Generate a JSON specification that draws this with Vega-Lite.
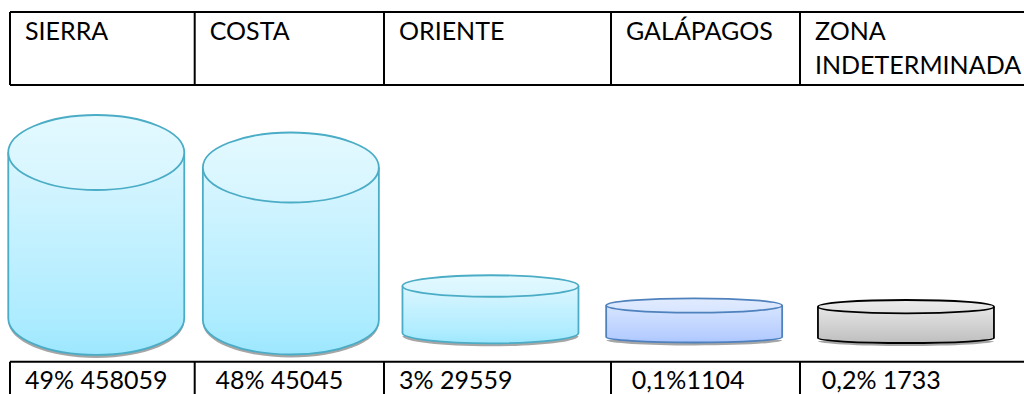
{
  "$schema": "https://vega.github.io/schema/vega-lite/v6.json",
  "width": 1024,
  "height": 394,
  "padding": 0,
  "autosize": "none",
  "background": "white",
  "config": {"view": {"stroke": null}},
  "datasets": {
    "cilindros": [
      {"region": "SIERRA", "columna": 0.467, "porcentaje": 49, "fondo": 0},
      {"region": "COSTA", "columna": 1.508, "porcentaje": 48, "fondo": -2},
      {"region": "ORIENTE", "columna": 2.469, "porcentaje": 3, "fondo": -15},
      {"region": "GALÁPAGOS", "columna": 3.44, "porcentaje": 0.1, "fondo": -19},
      {"region": "ZONA INDETERMINADA", "columna": 4.473, "porcentaje": 0.2, "fondo": -20}
    ],
    "celdas": [
      {"columna": 0, "fila": 1, "texto": "SIERRA"},
      {"columna": 1, "fila": 1, "texto": "COSTA"},
      {"columna": 2, "fila": 1, "texto": "ORIENTE"},
      {"columna": 3, "fila": 1, "texto": "GALÁPAGOS"},
      {"columna": 4, "fila": 1, "texto": "ZONA"},
      {"columna": 4, "fila": 2, "texto": "INDETERMINADA"},
      {"columna": 0, "fila": 5, "texto": "49% 458059"},
      {"columna": 1.03, "fila": 5, "texto": "48% 45045"},
      {"columna": 2, "fila": 5, "texto": "3% 29559"},
      {"columna": 3.03, "fila": 5, "texto": "0,1%1104"},
      {"columna": 4.03, "fila": 5, "texto": "0,2% 1733"}
    ],
    "verticales": [
      {"columna": 0, "fila": 0, "fila2": 3},
      {"columna": 1, "fila": 0, "fila2": 3},
      {"columna": 2, "fila": 0, "fila2": 3},
      {"columna": 3, "fila": 0, "fila2": 3},
      {"columna": 4, "fila": 0, "fila2": 3},
      {"columna": 0, "fila": 4, "fila2": 6},
      {"columna": 1, "fila": 4, "fila2": 6},
      {"columna": 2, "fila": 4, "fila2": 6},
      {"columna": 3, "fila": 4, "fila2": 6},
      {"columna": 4, "fila": 4, "fila2": 6}
    ],
    "horizontales": [
      {"columna": 0, "columna2": 5, "fila": 0},
      {"columna": 0, "columna2": 5, "fila": 3},
      {"columna": 0, "columna2": 5, "fila": 4}
    ]
  },
  "encoding": {
    "x": {
      "field": "columna",
      "type": "quantitative",
      "axis": null,
      "scale": {
        "domain": [0, 1, 2, 3, 4, 5],
        "range": [10, 194.7, 384, 611, 800, 1024],
        "padding": 0,
        "nice": false,
        "zero": false
      }
    }
  },
  "resolve": {"scale": {"y": "independent"}},
  "layer": [
    {
      "description": "Table above and below the cylinders",
      "encoding": {
        "y": {
          "field": "fila",
          "type": "quantitative",
          "axis": null,
          "scale": {
            "domain": [0, 1, 2, 3, 4, 5, 6],
            "range": [12, 40, 74, 85, 361.7, 389, 394],
            "nice": false,
            "zero": false
          }
        }
      },
      "layer": [
        {
          "data": {"name": "verticales"},
          "mark": {"type": "rule", "stroke": "#000000", "strokeWidth": 2},
          "encoding": {"y2": {"field": "fila2"}}
        },
        {
          "data": {"name": "horizontales"},
          "mark": {"type": "rule", "stroke": "#000000", "strokeWidth": 2},
          "encoding": {"x2": {"field": "columna2"}}
        },
        {
          "data": {"name": "celdas"},
          "mark": {
            "type": "text",
            "align": "left",
            "baseline": "alphabetic",
            "dx": 15,
            "font": "Lato",
            "fontSize": 25,
            "fill": "#000000"
          },
          "encoding": {"text": {"field": "texto", "type": "nominal"}}
        }
      ]
    },
    {
      "description": "One cylinder per region; the height follows the stated percentage",
      "data": {"name": "cilindros"},
      "encoding": {
        "y": {
          "field": "porcentaje",
          "type": "quantitative",
          "axis": null,
          "scale": {
            "domain": [-20, 0, 0.1, 0.2, 3, 48, 49],
            "range": [338, 318, 305.5, 306.7, 286, 167.5, 152.5],
            "padding": 0,
            "nice": false,
            "zero": false
          }
        },
        "stroke": {
          "field": "region",
          "type": "nominal",
          "legend": null,
          "scale": {
            "domain": ["SIERRA", "COSTA", "ORIENTE", "GALÁPAGOS", "ZONA INDETERMINADA"],
            "range": ["#4bacc6", "#4bacc6", "#4bacc6", "#4f81bd", "#000000"]
          }
        }
      },
      "resolve": {"scale": {"shape": "independent"}},
      "layer": [
        {
          "description": "Grey shadow under the base",
          "mark": {"type": "point", "filled": true, "opacity": 1, "size": 30976, "yOffset": 3, "fill": "#a6a6a6", "strokeWidth": 0},
          "encoding": {
            "y": {"field": "fondo", "type": "quantitative"},
            "stroke": {"value": null},
            "shape": {
              "field": "region",
              "type": "nominal",
              "legend": null,
              "scale": {
                "domain": ["SIERRA", "COSTA", "ORIENTE", "GALÁPAGOS", "ZONA INDETERMINADA"],
                "range": [
                  "M-1,0C-1,0.232 -0.552,0.42 0,0.42C0.552,0.42 1,0.232 1,0",
                  "M-1,0C-1,0.216 -0.552,0.392 0,0.392C0.552,0.392 1,0.216 1,0",
                  "M-1,0C-1,0.065 -0.552,0.117 0,0.117C0.552,0.117 1,0.065 1,0",
                  "M-1,0C-1,0.035 -0.552,0.0625 0,0.0625C0.552,0.0625 1,0.035 1,0",
                  "M-1,0C-1,0.031 -0.552,0.057 0,0.057C0.552,0.057 1,0.031 1,0"
                ]
              }
            }
          }
        },
        {
          "description": "Cylinder body",
          "mark": {"type": "bar", "orient": "vertical", "size": 176, "strokeWidth": 0},
          "encoding": {
            "y2": {"field": "fondo"},
            "stroke": {"value": null},
            "fill": {
              "condition": [
                {
                  "test": "datum.region === 'GALÁPAGOS'",
                  "value": {"gradient": "linear", "x1": 0, "x2": 0, "y1": 0, "y2": 1, "stops": [{"offset": 0, "color": "#d6e4ff"}, {"offset": 1, "color": "#b6cdff"}]}
                },
                {
                  "test": "datum.region === 'ZONA INDETERMINADA'",
                  "value": {"gradient": "linear", "x1": 0, "x2": 0, "y1": 0, "y2": 1, "stops": [{"offset": 0, "color": "#e6e6e6"}, {"offset": 1, "color": "#c4c4c4"}]}
                }
              ],
              "value": {"gradient": "linear", "x1": 0, "x2": 0, "y1": 0, "y2": 1, "stops": [{"offset": 0, "color": "#daf6ff"}, {"offset": 1, "color": "#aeecff"}]}
            }
          }
        },
        {
          "description": "Rounded base of the cylinder",
          "mark": {"type": "point", "filled": true, "opacity": 1, "size": 30976, "strokeWidth": 1.8},
          "encoding": {
            "y": {"field": "fondo", "type": "quantitative"},
            "fill": {
              "condition": [
                {
                  "test": "datum.region === 'GALÁPAGOS'",
                  "value": {"gradient": "linear", "x1": 0, "x2": 0, "y1": 0, "y2": 1, "stops": [{"offset": 0, "color": "#b6cdff"}, {"offset": 1, "color": "#a9c4ff"}]}
                },
                {
                  "test": "datum.region === 'ZONA INDETERMINADA'",
                  "value": {"gradient": "linear", "x1": 0, "x2": 0, "y1": 0, "y2": 1, "stops": [{"offset": 0, "color": "#c4c4c4"}, {"offset": 1, "color": "#bcbcbc"}]}
                }
              ],
              "value": {"gradient": "linear", "x1": 0, "x2": 0, "y1": 0, "y2": 1, "stops": [{"offset": 0, "color": "#aeecff"}, {"offset": 1, "color": "#9ce7fe"}]}
            },
            "shape": {
              "field": "region",
              "type": "nominal",
              "legend": null,
              "scale": {
                "domain": ["SIERRA", "COSTA", "ORIENTE", "GALÁPAGOS", "ZONA INDETERMINADA"],
                "range": [
                  "M-1,0C-1,0.232 -0.552,0.42 0,0.42C0.552,0.42 1,0.232 1,0",
                  "M-1,0C-1,0.216 -0.552,0.392 0,0.392C0.552,0.392 1,0.216 1,0",
                  "M-1,0C-1,0.065 -0.552,0.117 0,0.117C0.552,0.117 1,0.065 1,0",
                  "M-1,0C-1,0.035 -0.552,0.0625 0,0.0625C0.552,0.0625 1,0.035 1,0",
                  "M-1,0C-1,0.031 -0.552,0.057 0,0.057C0.552,0.057 1,0.031 1,0"
                ]
              }
            }
          }
        },
        {
          "description": "Left side of the cylinder",
          "mark": {"type": "rule", "xOffset": -88, "strokeWidth": 1.8},
          "encoding": {"y2": {"field": "fondo"}}
        },
        {
          "description": "Right side of the cylinder",
          "mark": {"type": "rule", "xOffset": 88, "strokeWidth": 1.8},
          "encoding": {"y2": {"field": "fondo"}}
        },
        {
          "description": "Top face of the cylinder",
          "mark": {"type": "point", "filled": true, "opacity": 1, "size": 30976, "strokeWidth": 1.8},
          "encoding": {
            "fill": {
              "condition": [
                {
                  "test": "datum.region === 'GALÁPAGOS'",
                  "value": {"gradient": "linear", "x1": 0, "x2": 0, "y1": 0, "y2": 1, "stops": [{"offset": 0, "color": "#e2ecff"}, {"offset": 1, "color": "#d6e4ff"}]}
                },
                {
                  "test": "datum.region === 'ZONA INDETERMINADA'",
                  "value": {"gradient": "linear", "x1": 0, "x2": 0, "y1": 0, "y2": 1, "stops": [{"offset": 0, "color": "#ececec"}, {"offset": 1, "color": "#e2e2e2"}]}
                }
              ],
              "value": {"gradient": "linear", "x1": 0, "x2": 0, "y1": 0, "y2": 1, "stops": [{"offset": 0, "color": "#e3f9ff"}, {"offset": 1, "color": "#d6f5ff"}]}
            },
            "shape": {
              "field": "region",
              "type": "nominal",
              "legend": null,
              "scale": {
                "domain": ["SIERRA", "COSTA", "ORIENTE", "GALÁPAGOS", "ZONA INDETERMINADA"],
                "range": [
                  "M-1,0C-1,-0.235 -0.552,-0.426 0,-0.426C0.552,-0.426 1,-0.235 1,0C1,0.235 0.552,0.426 0,0.426C-0.552,0.426 -1,0.235 -1,0Z",
                  "M-1,0C-1,-0.22 -0.552,-0.398 0,-0.398C0.552,-0.398 1,-0.22 1,0C1,0.22 0.552,0.398 0,0.398C-0.552,0.398 -1,0.22 -1,0Z",
                  "M-1,0C-1,-0.067 -0.552,-0.122 0,-0.122C0.552,-0.122 1,-0.067 1,0C1,0.067 0.552,0.122 0,0.122C-0.552,0.122 -1,0.067 -1,0Z",
                  "M-1,0C-1,-0.045 -0.552,-0.082 0,-0.082C0.552,-0.082 1,-0.045 1,0C1,0.045 0.552,0.082 0,0.082C-0.552,0.082 -1,0.045 -1,0Z",
                  "M-1,0C-1,-0.042 -0.552,-0.076 0,-0.076C0.552,-0.076 1,-0.042 1,0C1,0.042 0.552,0.076 0,0.076C-0.552,0.076 -1,0.042 -1,0Z"
                ]
              }
            }
          }
        }
      ]
    }
  ]
}
